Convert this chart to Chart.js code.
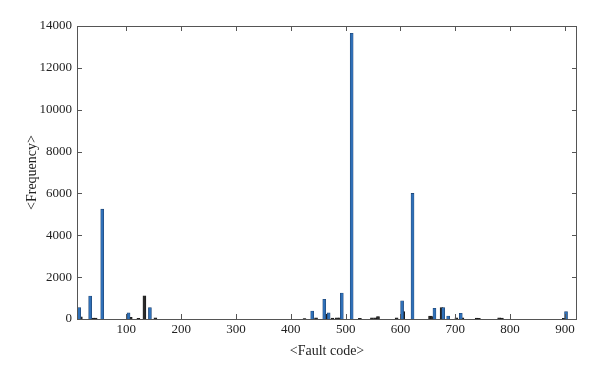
<!DOCTYPE html>
<html>
<head>
<meta charset="utf-8">
<script src="https://cdn.jsdelivr.net/npm/chart.js@4"></script>
<style>
  html, body { margin: 0; padding: 0; background: #fff; }
  #wrap { width: 600px; height: 374px; }
</style>
</head>
<body>
<div id="wrap"><canvas id="faultChart" width="600" height="374"></canvas></div>
<script>
// fault codes and their frequencies
const blueCodes  = [14, 34, 56, 104, 143, 439, 461, 469, 493, 511, 603, 622, 662, 678, 687, 710, 902];
const blueCounts = [540, 1100, 5250, 290, 540, 380, 940, 290, 1240, 13650, 870, 6000, 510, 540, 140, 270, 350];

const darkCodes  = [17, 40, 44, 108, 122, 133, 153, 425, 446, 463, 476, 484, 489, 526, 548, 554, 559, 593, 605, 654, 657, 675, 702, 713, 739, 743, 780, 785, 898];
const darkCounts = [100, 40, 40, 80, 30, 1110, 60, 20, 60, 240, 40, 50, 60, 30, 50, 60, 120, 60, 350, 140, 120, 540, 50, 50, 40, 30, 60, 40, 30];

const xTicks = [100, 200, 300, 400, 500, 600, 700, 800, 900];
const yTicks = [0, 2000, 4000, 6000, 8000, 10000, 12000, 14000];

const toPoints = (codes, counts) => codes.map((c, i) => ({ x: c, y: counts[i] }));

const FONT = "'Liberation Serif', 'DejaVu Serif', serif";
const AXIS = "#555";

// MATLAB-style box with inward ticks
const boxTicks = {
  id: "boxTicks",
  afterDraw(chart) {
    const { ctx, chartArea: a, scales: { x, y } } = chart;
    ctx.save();
    ctx.strokeStyle = AXIS;
    ctx.lineWidth = 1;
    ctx.strokeRect(a.left + 0.5, a.top + 0.5, a.right - a.left - 1, a.bottom - a.top);
    ctx.beginPath();
    xTicks.forEach(v => {
      const px = Math.round(x.getPixelForValue(v)) + 0.5;
      ctx.moveTo(px, a.bottom); ctx.lineTo(px, a.bottom - 5);
      ctx.moveTo(px, a.top); ctx.lineTo(px, a.top + 5);
    });
    yTicks.forEach(v => {
      const py = Math.round(y.getPixelForValue(v)) + 0.5;
      ctx.moveTo(a.left, py); ctx.lineTo(a.left + 5, py);
      ctx.moveTo(a.right, py); ctx.lineTo(a.right - 5, py);
    });
    ctx.stroke();
    ctx.restore();
  }
};

new Chart(document.getElementById("faultChart"), {
  type: "bar",
  data: {
    datasets: [
      {
        label: "blue",
        data: toPoints(blueCodes, blueCounts),
        backgroundColor: "#2f70b8",
        borderColor: "#1d3f6a",
        borderWidth: 0.6,
        barThickness: 3,
        grouped: false
      },
      {
        label: "dark",
        data: toPoints(darkCodes, darkCounts),
        backgroundColor: "#2a2a2a",
        borderColor: "#111",
        borderWidth: 0.6,
        barThickness: 3,
        grouped: false
      }
    ]
  },
  options: {
    responsive: false,
    animation: false,
    layout: { padding: { top: 26, right: 23, left: 24, bottom: 14 } },
    plugins: { legend: { display: false }, tooltip: { enabled: false } },
    scales: {
      x: {
        type: "linear",
        offset: false,
        min: 10,
        max: 922,
        grid: { display: false, drawTicks: false },
        border: { display: false },
        afterBuildTicks: s => { s.ticks = xTicks.map(v => ({ value: v })); },
        afterFit: s => { s.height = 41; },
        ticks: { color: "#222", font: { family: FONT, size: 13 }, padding: 3, maxRotation: 0, callback: v => String(v) },
        title: { display: true, text: "<Fault code>", color: "#222", font: { family: FONT, size: 14 }, padding: 0 }
      },
      y: {
        min: 0,
        max: 14000,
        grid: { display: false, drawTicks: false },
        border: { display: false },
        afterBuildTicks: s => { s.ticks = yTicks.map(v => ({ value: v })); },
        afterFit: s => { s.width = 53; },
        ticks: { color: "#222", font: { family: FONT, size: 13 }, padding: 5, callback: v => String(v) },
        title: { display: true, text: "<Frequency>", color: "#222", font: { family: FONT, size: 14 }, padding: 0 }
      }
    }
  },
  plugins: [boxTicks]
});
</script>
</body>
</html>
